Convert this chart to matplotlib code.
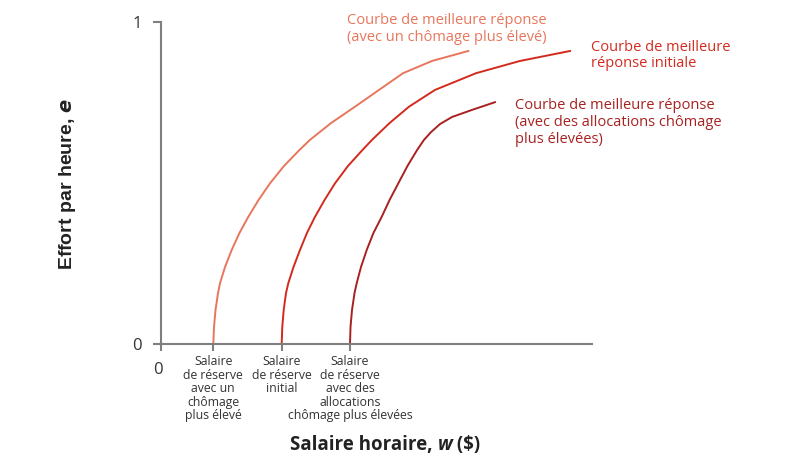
import matplotlib
matplotlib.use("Agg")
import matplotlib.pyplot as plt

# Wage axis runs 0..10, effort 0..1
wage_high_unemp = [1.213, 1.230, 1.265, 1.323, 1.369, 1.485, 1.640, 1.821, 2.026, 2.262,
                   2.529, 2.854, 3.209, 3.457, 3.944, 4.501, 5.058, 5.615, 6.288, 7.130]
effort_high_unemp = [0.0, 0.053, 0.106, 0.158, 0.189, 0.239, 0.292, 0.345, 0.395, 0.447,
                     0.499, 0.553, 0.602, 0.634, 0.686, 0.737, 0.789, 0.841, 0.879, 0.910]

wage_initial = [2.800, 2.814, 2.847, 2.900, 2.954, 3.074, 3.225, 3.387, 3.573, 3.794,
                4.037, 4.339, 4.671, 4.896, 5.302, 5.754, 6.357, 7.309, 8.329, 9.490]
effort_initial = [0.0, 0.053, 0.106, 0.158, 0.189, 0.239, 0.292, 0.345, 0.395, 0.447,
                  0.499, 0.553, 0.602, 0.634, 0.686, 0.737, 0.789, 0.841, 0.879, 0.910]

wage_high_benefit = [4.385, 4.397, 4.432, 4.490, 4.541, 4.640, 4.773, 4.930, 5.121,
                     5.302, 5.506, 5.719, 5.940, 6.102, 6.265, 6.473, 6.752, 7.216, 7.749]
effort_high_benefit = [0.0, 0.053, 0.106, 0.158, 0.189, 0.239, 0.292, 0.345, 0.395,
                       0.447, 0.499, 0.553, 0.602, 0.634, 0.658, 0.683, 0.705, 0.727, 0.751]

reservation_wages = [1.213, 2.800, 4.385]
reservation_labels = [
    "Salaire\nde réserve\navec un\nchômage\nplus élevé",
    "Salaire\nde réserve\ninitial",
    "Salaire\nde réserve\navec des\nallocations\nchômage plus élevées",
]

LIGHT = "#e8765c"
MID = "#d42a1e"
DARK = "#a82120"
AXIS = "#7f7f7f"
TXT = "#333333"
LABEL = "#222222"

plt.rcParams["font.family"] = ["Open Sans", "DejaVu Sans"]

W, H = 810, 472
fig = plt.figure(figsize=(W / 100, H / 100), dpi=100)
ax = fig.add_axes([161 / W, 1 - 344 / H, (592 - 161) / W, (344 - 22) / H])
ax.set_xlim(0, 10)
ax.set_ylim(0, 1)

for xs, ys, col in [(wage_high_unemp, effort_high_unemp, LIGHT),
                    (wage_initial, effort_initial, MID),
                    (wage_high_benefit, effort_high_benefit, DARK)]:
    ax.plot(xs, ys, color=col, lw=1.4, clip_on=False, solid_joinstyle="round")

for s in ["top", "right"]:
    ax.spines[s].set_visible(False)
for s in ["left", "bottom"]:
    ax.spines[s].set_color(AXIS)
    ax.spines[s].set_linewidth(1.5)

ax.set_yticks([0, 1])
ax.set_yticklabels(["0", "1"], fontsize=12, color=TXT)
ax.tick_params(axis="y", length=6, width=1.5, color=AXIS, pad=8)
ax.set_xticks([0] + reservation_wages)
ax.set_xticklabels([""] * 4)
ax.tick_params(axis="x", length=5, width=1.5, color=AXIS)

ax.text(-0.07, -0.08, "0", fontsize=12, color=TXT, ha="center", va="center")

for xw, lab in zip(reservation_wages, reservation_labels):
    ax.text(xw, -0.035, lab, fontsize=8.8, color=TXT, ha="center", va="top",
            linespacing=1.05)

ax.text(4.32, 0.978, "Courbe de meilleure réponse\n(avec un chômage plus élevé)",
        fontsize=10.5, color=LIGHT, ha="left", va="center", linespacing=1.25)
ax.text(9.98, 0.896, "Courbe de meilleure\nréponse initiale",
        fontsize=10.5, color=MID, ha="left", va="center", linespacing=1.12)
ax.text(8.21, 0.689, "Courbe de meilleure réponse\n(avec des allocations chômage\nplus élevées)",
        fontsize=10.5, color=DARK, ha="left", va="center", linespacing=1.17)

fig.text(67 / W, 1 - 184 / H, r"Effort par heure, $\boldsymbol{e}$", rotation=90,
         ha="center", va="center", fontsize=14, fontweight="bold",
         family="Liberation Sans", color=LABEL)

# x label built from pieces so that only w is italic
renderer = fig.canvas.get_renderer()
pieces = [("Salaire horaire, ", "normal"), ("w", "italic"), (" ($)", "normal")]
xpos = 290 / W
for txt, st in pieces:
    t = fig.text(xpos, 1 - 445 / H, txt, ha="left", va="center", fontsize=13.5,
                 fontweight="bold", style=st, color=LABEL)
    bb = t.get_window_extent(renderer=renderer)
    xpos += bb.width / W

fig.savefig("out.png", dpi=100)
